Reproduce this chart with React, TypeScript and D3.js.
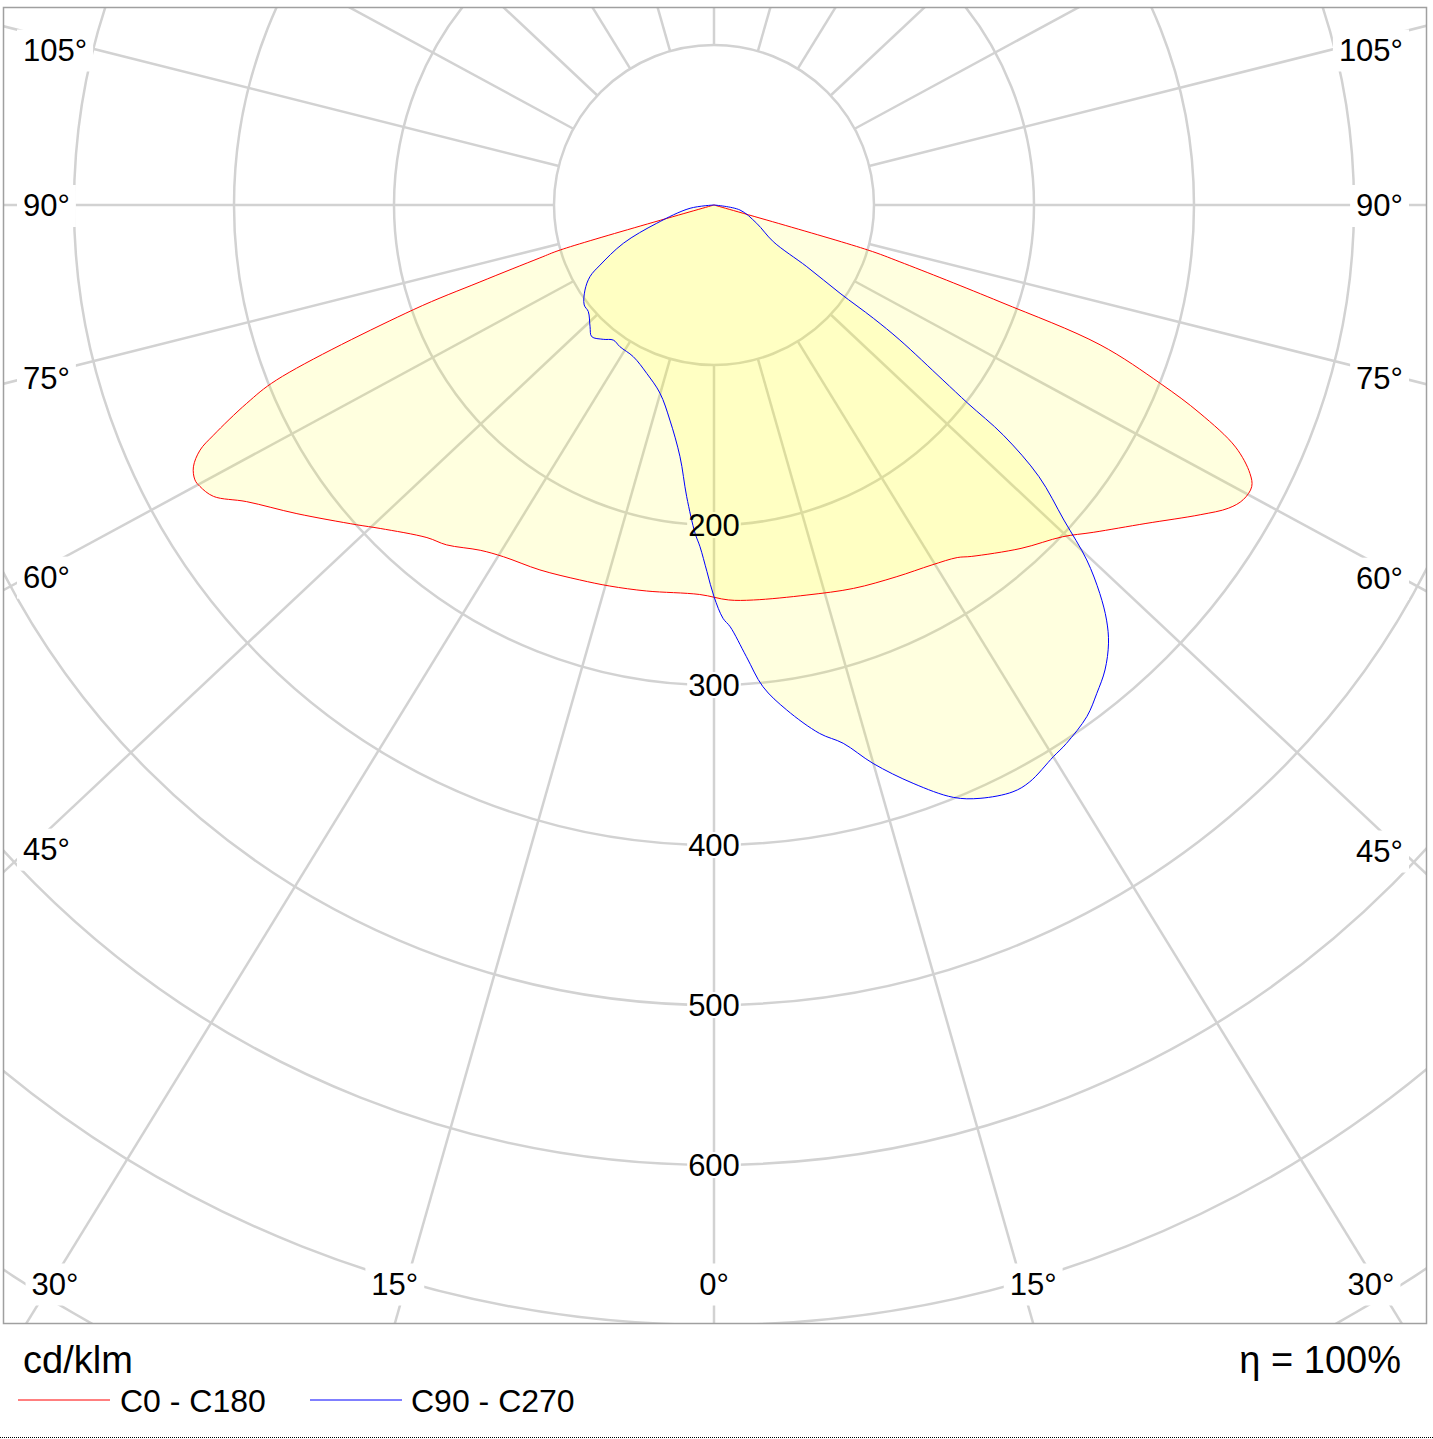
import React from "react";
import * as d3 from "d3";

// ---------- data ----------
// gamma angle in degrees measured from nadir, negative = C180 / C270 side
const redGamma = [-90, -73.7, -73.1, -71.8, -70.8, -68.2, -67.0, -65.3, -64.5, -63.3, -62.1, -61.3, -59.8, -57.6, -53.5, -48.2, -45.9, -40.8, -38.2, -34.1, -30.9, -25.5, -19.7, -15.3, -9.9, -2.1, 2.1, 5.7, 13.4, 20.0, 26.1, 31.2, 34.6, 36.2, 41.8, 46.4, 49.2, 53.6, 57.5, 59.5, 60.9, 62.35, 63.4, 65.1, 66.8, 68.2, 70.1, 71.3, 73.0, 73.7, 90];
const redI = [0, 100, 113.7, 154, 199, 294.4, 317.3, 344.4, 355.9, 364.2, 367.1, 366.3, 362, 346, 324.3, 299.8, 290.5, 274.6, 270.3, 260.6, 256.2, 252.7, 248.9, 246.9, 244.9, 243.6, 247, 248.1, 250.6, 255, 258.8, 263, 267.7, 272.2, 287.9, 300.7, 313.1, 335.4, 360.3, 373.3, 378.6, 379.4, 374.6, 359.4, 330.5, 300.6, 256.6, 188.7, 121.5, 100, 0];

const blueGamma = [-90, -82.2, -72.3, -67.1, -62.2, -60.0, -56.6, -52.4, -49.7, -45.5, -42.9, -39.5, -36.7, -33.6, -28.0, -21.8, -16.0, -11.6, -7.7, -5.35, -3.3, -2.35, -1.1, 0, 1.25, 2.2, 4.1, 5.8, 8.2, 11.3, 13.5, 15.9, 19.0, 22.0, 24.15, 27.0, 28.7, 31.6, 33.2, 36.1, 38.1, 40.06, 42.0, 43.4, 44.8, 46.4, 48.0, 50.1, 51.5, 52.0, 52.6, 54.0, 54.6, 55.0, 56.4, 58.25, 66.8, 79.1, 90];
const blueI = [0, 15.1, 37.6, 61.5, 80.5, 89.5, 96.6, 102.4, 103, 108.6, 112.3, 108.8, 105.3, 106.3, 107.4, 113.3, 122.4, 137.2, 158.7, 183.1, 205.5, 213.7, 229.2, 244.8, 258.4, 263.8, 283, 302.6, 318.9, 336.8, 346, 362.9, 382.3, 399.3, 406.4, 411.6, 411, 404.8, 402.2, 395.6, 387.8, 379.7, 368.5, 357.1, 342.2, 321.7, 294.3, 264.8, 231.1, 201.4, 180.1, 143.6, 122.2, 96.2, 69.6, 43.6, 29, 16.5, 0];

const gridValues = [100, 200, 300, 400, 500, 600, 700, 800];
const radialTickValues = [200, 300, 400, 500, 600];
const spokeAngles = d3.range(0, 360, 15);
const labelAngles = [0, 15, 30, 45, 60, 75, 90, 105];
const seriesNames = ["C0 - C180", "C90 - C270"];
const seriesColors = ["#ff0000", "#0000ff"];
const unitLabel = "cd/klm";
const efficiencyLabel = "\u03b7 = 100%";

// ---------- layout ----------
const W = 1433;
const H = 1439;
const CX = 714;
const CY = 205;
const F = { x0: 3.5, y0: 7.5, x1: 1426.5, y1: 1323.5 };
const SPOKE_ASPECT = 1.065;
const FONT = "'Liberation Sans', Arial, Helvetica, sans-serif";
const LABEL_FS = 31;
const GRID = "#d2d2d2";

const rScale = d3.scaleLinear().domain([0, 100]).range([0, 160]);

function charW(c: string): number {
  if (/[0-9]/.test(c)) return 0.556;
  if (c === "\u00b0") return 0.4;
  return 0.556;
}
function textW(s: string, fs: number): number {
  let w = 0;
  for (const c of s) w += charW(c);
  return w * fs;
}

function dir(thetaDeg: number): [number, number] {
  const t = (thetaDeg * Math.PI) / 180;
  const x = SPOKE_ASPECT * Math.sin(t);
  const y = Math.cos(t);
  const n = Math.hypot(x, y);
  return [x / n, y / n];
}

type Pt = [number, number];
const radial = d3
  .lineRadial<Pt>()
  .angle((d) => Math.PI - (d[0] * Math.PI) / 180)
  .radius((d) => rScale(d[1]))
  .curve(d3.curveCatmullRom.alpha(0.5));

const redPts: Pt[] = redGamma.map((g, i) => [g, redI[i]]);
const bluePts: Pt[] = blueGamma.map((g, i) => [g, blueI[i]]);

interface AngleLabel {
  text: string;
  x: number;
  y: number;
  anchor: "start" | "middle" | "end";
  w: number;
}

function buildAngleLabels(): AngleLabel[] {
  const out: AngleLabel[] = [];
  for (const a of labelAngles) {
    const signed = a === 0 ? [0] : [-a, a];
    for (const g of signed) {
      const [dx, dy] = dir(g);
      const text = `${a}\u00b0`;
      const w = textW(text, LABEL_FS);
      const frameX = g < 0 ? F.x0 : F.x1;
      const insetX = g < 0 ? F.x0 + 25 : F.x1 - 25;
      const tFrameSide = dx !== 0 ? (frameX - CX) / dx : Infinity;
      const tBottom = dy > 0 ? (F.y1 - CY) / dy : Infinity;
      if (tBottom < tFrameSide) {
        let x = CX + tBottom * dx;
        x = Math.max(55, Math.min(W - 62, x));
        out.push({ text, x, y: F.y1 - 40, anchor: "middle", w });
      } else {
        let y = CY + ((insetX - CX) / dx) * dy;
        y = Math.max(F.y0 + 42, Math.min(F.y1 - 40, y));
        if (g < 0) out.push({ text, x: 23, y, anchor: "start", w });
        else out.push({ text, x: 1403, y, anchor: "end", w });
      }
    }
  }
  return out;
}

export default function App() {
  const angleLabels = buildAngleLabels();
  const redPath = radial(redPts) || "";
  const bluePath = radial(bluePts) || "";

  const boxLeft = (l: AngleLabel) =>
    l.anchor === "start" ? l.x - 6 : l.anchor === "end" ? l.x - l.w - 6 : l.x - l.w / 2 - 6;

  return (
    <div style={{ position: "absolute", left: 0, top: 0 }}>
      <svg width={W} height={H} style={{ display: "block" }} fontFamily={FONT}>
        <defs>
          <clipPath id="plotClip">
            <rect x={F.x0} y={F.y0} width={F.x1 - F.x0} height={F.y1 - F.y0} />
          </clipPath>
        </defs>
        <rect x={0} y={0} width={W} height={H} fill="#ffffff" />

        <g clipPath="url(#plotClip)">
          {gridValues.map((v) => (
            <circle key={v} cx={CX} cy={CY} r={rScale(v)} fill="none" stroke={GRID} strokeWidth={2.5} />
          ))}
          {spokeAngles.map((a) => {
            const [dx, dy] = dir(a);
            const r0 = rScale(100);
            return (
              <line
                key={a}
                x1={CX + dx * r0}
                y1={CY + dy * r0}
                x2={CX + dx * 2200}
                y2={CY + dy * 2200}
                stroke={GRID}
                strokeWidth={2.5}
              />
            );
          })}
          {angleLabels.map((l, i) => (
            <rect key={"ab" + i} x={boxLeft(l)} y={l.y - 20} width={l.w + 12} height={42} fill="#ffffff" />
          ))}
          {radialTickValues.map((v) => {
            const w = textW(String(v), LABEL_FS);
            return (
              <rect key={"rb" + v} x={CX - w / 2 - 1} y={CY + rScale(v) - 13} width={w + 2} height={26} fill="#ffffff" />
            );
          })}

          <g transform={`translate(${CX},${CY})`}>
            <path d={redPath + "Z"} fill="#ffff00" fillOpacity={0.125} stroke="none" />
            <path d={bluePath + "Z"} fill="#ffff00" fillOpacity={0.125} stroke="none" />
            <path d={redPath} fill="none" stroke={seriesColors[0]} strokeWidth={1} />
            <path d={bluePath} fill="none" stroke={seriesColors[1]} strokeWidth={1} />
          </g>
        </g>

        {angleLabels.map((l, i) => (
          <text key={"at" + i} x={l.x} y={l.y} dy="0.36em" textAnchor={l.anchor} fontSize={LABEL_FS} fill="#000">
            {l.text}
          </text>
        ))}
        {radialTickValues.map((v) => (
          <text key={"rt" + v} x={CX} y={CY + rScale(v)} dy="0.36em" textAnchor="middle" fontSize={LABEL_FS} fill="#000">
            {v}
          </text>
        ))}

        <rect x={F.x0} y={F.y0} width={F.x1 - F.x0} height={F.y1 - F.y0} fill="none" stroke="#a0a0a0" strokeWidth={1.5} />

        <text x={23} y={1373} fontSize={38} fill="#000">{unitLabel}</text>
        <text x={1401} y={1373} fontSize={38} textAnchor="end" fill="#000">{efficiencyLabel}</text>

        <line x1={18} x2={110} y1={1400} y2={1400} stroke={seriesColors[0]} strokeWidth={1} />
        <text x={120} y={1412} fontSize={32} fill="#000">{seriesNames[0]}</text>
        <line x1={310} x2={402} y1={1400} y2={1400} stroke={seriesColors[1]} strokeWidth={1} />
        <text x={411} y={1412} fontSize={32} fill="#000">{seriesNames[1]}</text>

        <line x1={0} x2={W} y1={1437.5} y2={1437.5} stroke="#000" strokeWidth={1} strokeDasharray="1 1" />
      </svg>
    </div>
  );
}
